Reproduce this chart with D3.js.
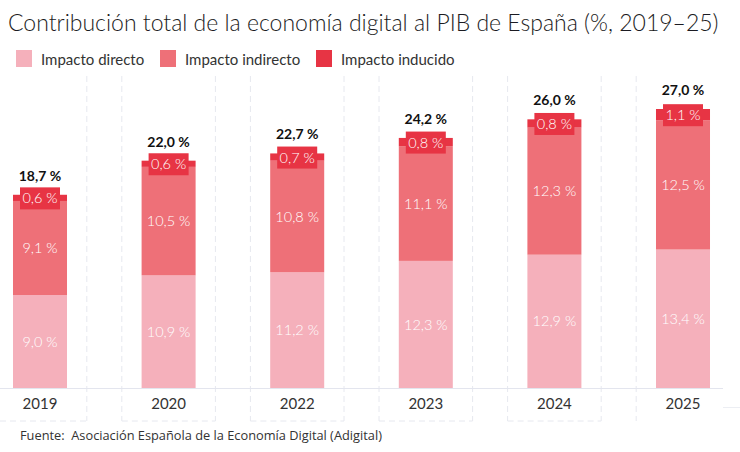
<!DOCTYPE html>
<html>
<head>
<meta charset="utf-8">
<script src="https://cdn.jsdelivr.net/npm/d3@7"></script>
<style>
  body { margin: 0; background: #fff; }
  svg { display: block; font-family: "Lato", "Noto Sans", sans-serif; }
</style>
</head>
<body>
<div id="chart-area"></div>
<script>
// data
var years = ["2019", "2020", "2022", "2023", "2024", "2025"];
var directo = [9.0, 10.9, 11.2, 12.3, 12.9, 13.4];
var indirecto = [9.1, 10.5, 10.8, 11.1, 12.3, 12.5];
var inducido = [0.6, 0.6, 0.7, 0.8, 0.8, 1.1];
var totales = [18.7, 22.0, 22.7, 24.2, 26.0, 27.0];
var seriesNames = ["Impacto directo", "Impacto indirecto", "Impacto inducido"];
var colors = ["#f5b0bb", "#ee7078", "#e73444"];

var width = 740, height = 452;
var base = 388;

var rows = years.map(function(y, i){
    return { year: y, directo: directo[i], indirecto: indirecto[i], inducido: inducido[i], total: totales[i] };
});

var stack = d3.stack().keys(["directo", "indirecto", "inducido"])(rows);

var x = d3.scaleBand()
    .domain(years)
    .range([-24.3, 747.3])
    .paddingInner(0.58)
    .paddingOuter(0.29);

var y = d3.scaleLinear()
    .domain([0, 27])
    .range([base, 109]);

var fmt = function(v){ return d3.format(".1f")(v).replace(".", ",") + " %"; };

var svg = d3.select("#chart-area").append("svg")
    .attr("width", width)
    .attr("height", height);

// faint dashed column borders
var grid = svg.append("g")
    .attr("stroke", "#e6e8ef")
    .attr("stroke-width", 1)
    .attr("stroke-dasharray", "6,4");

var mids = [];
for (var i = 0; i < years.length - 1; i++) {
    mids.push((x(years[i]) + x(years[i + 1]) + x.bandwidth()) / 2);
}
mids.forEach(function(m){
    grid.append("line").attr("x1", m - 17.5).attr("x2", m - 17.5).attr("y1", 76).attr("y2", 421);
    grid.append("line").attr("x1", m + 17.5).attr("x2", m + 17.5).attr("y1", 76).attr("y2", 421);
});
var lefts = [0].concat(mids.map(function(m){ return m + 17.5; }));
var rights = mids.map(function(m){ return m - 17.5; });
rights.forEach(function(r, i){
    grid.append("line").attr("x1", lefts[i]).attr("x2", r).attr("y1", 421).attr("y2", 421);
});

// baseline
svg.append("line")
    .attr("x1", 0).attr("x2", 723)
    .attr("y1", base + 0.5).attr("y2", base + 0.5)
    .attr("stroke", "#e3e5ee");
svg.append("line")
    .attr("x1", 723).attr("x2", 740)
    .attr("y1", 407.5).attr("y2", 407.5)
    .attr("stroke", "#eceef3");

// bars
var layers = svg.selectAll("g.layer")
    .data(stack)
    .enter().append("g")
    .attr("class", "layer")
    .attr("fill", function(d, i){ return colors[i]; });

layers.selectAll("rect")
    .data(function(d){ return d; })
    .enter().append("rect")
    .attr("x", function(d){ return x(d.data.year); })
    .attr("y", function(d){ return y(d[1]); })
    .attr("width", x.bandwidth())
    .attr("height", function(d){ return y(d[0]) - y(d[1]); });

// labels inside directo / indirecto
[0, 1].forEach(function(k){
    svg.append("g").selectAll("text")
        .data(stack[k])
        .enter().append("text")
        .attr("x", function(d){ return x(d.data.year) + x.bandwidth() / 2; })
        .attr("y", function(d){ return (y(d[0]) + y(d[1])) / 2; })
        .attr("dy", "0.35em")
        .attr("text-anchor", "middle")
        .attr("fill", "#fff")
        .attr("font-size", 14.5)
        .attr("font-weight", 300)
        .text(function(d){ return fmt(d[1] - d[0]); });
});

// inducido label boxes
var tags = svg.append("g").selectAll("g")
    .data(stack[2])
    .enter().append("g")
    .attr("transform", function(d){
        return "translate(" + (x(d.data.year) + x.bandwidth() / 2) + "," + ((y(d[0]) + y(d[1])) / 2 + 0.5) + ")";
    });
tags.append("rect")
    .attr("x", -20).attr("y", -11)
    .attr("width", 40).attr("height", 22)
    .attr("fill", colors[2]);
tags.append("text")
    .attr("dy", "0.35em")
    .attr("text-anchor", "middle")
    .attr("fill", "#fff")
    .attr("font-size", 14.5)
    .attr("font-weight", 300)
    .text(function(d){ return fmt(d[1] - d[0]); });

// totals
svg.append("g").selectAll("text")
    .data(rows)
    .enter().append("text")
    .attr("x", function(d){ return x(d.year) + x.bandwidth() / 2; })
    .attr("y", function(d){ return y(d.total) - 14; })
    .attr("text-anchor", "middle")
    .attr("fill", "#111")
    .attr("font-size", 14)
    .attr("font-weight", 700)
    .text(function(d){ return fmt(d.total); });

// x axis labels
var xAxis = d3.axisBottom(x).tickSize(0).tickPadding(0);
var ax = svg.append("g")
    .attr("transform", "translate(0," + base + ")")
    .call(xAxis);
ax.select(".domain").remove();
ax.selectAll("text")
    .attr("y", 21)
    .attr("dy", 0)
    .attr("font-size", 15)
    .attr("font-family", "Lato, sans-serif")
    .attr("fill", "#333");

// title
svg.append("text")
    .attr("x", 8).attr("y", 31)
    .attr("font-size", 23)
    .attr("font-weight", 300)
    .attr("fill", "#1b1b22")
    .text("Contribución total de la economía digital al PIB de España (%, 2019–25)");

// legend
var legX = [16, 160, 316];
var leg = svg.append("g").selectAll("g")
    .data(seriesNames)
    .enter().append("g")
    .attr("transform", function(d, i){ return "translate(" + legX[i] + ",50)"; });
leg.append("rect")
    .attr("width", 16).attr("height", 17)
    .attr("fill", function(d, i){ return colors[i]; });
leg.append("text")
    .attr("x", 25).attr("y", 15)
    .attr("font-size", 15)
    .attr("fill", "#333")
    .text(function(d){ return d; });

// source
svg.append("text")
    .attr("x", 20).attr("y", 440)
    .attr("font-size", 12.8)
    .attr("font-family", "'Open Sans', sans-serif")
    .attr("fill", "#333")
    .attr("xml:space", "preserve")
    .style("white-space", "pre")
    .text("Fuente:  Asociación Española de la Economía Digital (Adigital)");
</script>
</body>
</html>
